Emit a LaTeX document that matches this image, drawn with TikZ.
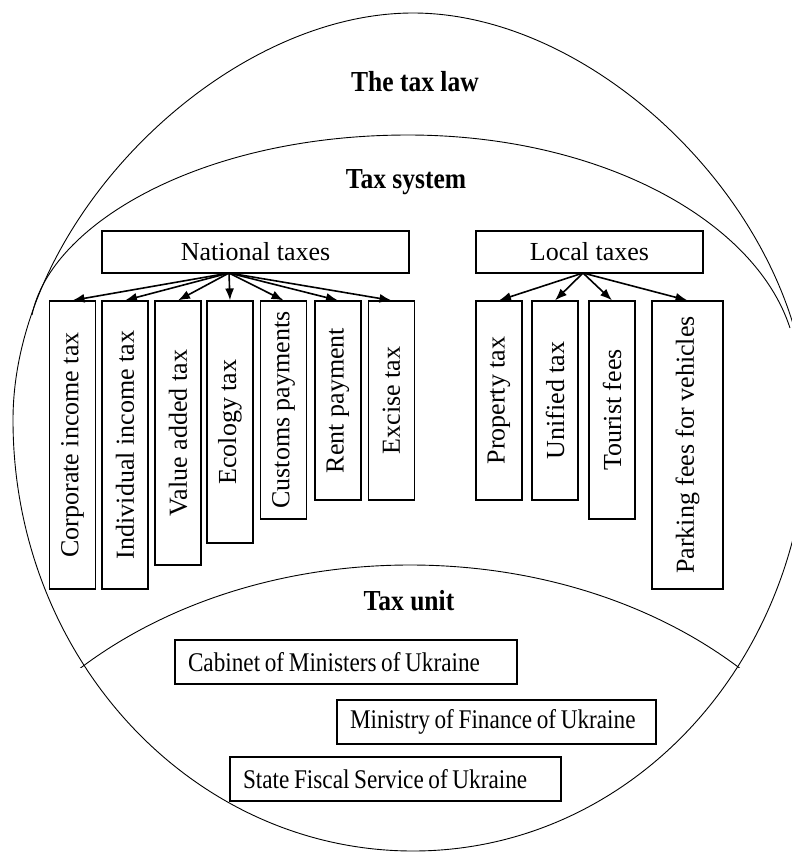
\documentclass[tikz,border=0pt]{standalone}
\usepackage{fontspec}
\setmainfont{Liberation Serif}
\newfontfamily\condfont[FakeStretch=0.86,WordSpace=0.8]{Liberation Serif}
\newfontfamily\titlefont[FakeStretch=0.88]{Liberation Serif}
\usetikzlibrary{arrows.meta}
\begin{document}
\begin{tikzpicture}[x=1pt,y=-1pt,
  ring/.style={line width=0.9pt},
  title/.style={font=\titlefont\fontsize{29}{33}\selectfont\bfseries, anchor=base, inner sep=0pt},
  headbox/.style={draw, line width=1.2pt, font=\fontsize{26}{30}\selectfont, minimum height=42pt, inner sep=0pt},
  taxbox/.style={draw, line width=1.2pt, font=\fontsize{26}{30}\selectfont, rotate=90, inner sep=0pt, minimum height=46pt},
  unitbox/.style={draw, line width=1.2pt, font=\condfont\fontsize{27}{31}\selectfont, minimum height=44pt, inner xsep=13pt, inner ysep=0pt},
  arr/.style={line width=1.6pt, -{Latex[length=12pt,width=9pt]}}
]
\useasboundingbox (0,0) rectangle (792,852);
% outer "tax law" shape
\draw[ring] (413,13) .. controls (223,13) and (13,220) .. (13,420)
  .. controls (13,658) and (192,851) .. (413,851)
  .. controls (634,851) and (808,658) .. (808,420)
  .. controls (808,220) and (603,13) .. cycle;
% tax system arc
\draw[ring] (32,315) .. controls (50,225) and (200,135) .. (408,135)
  .. controls (600,135) and (755,220) .. (790,328);
% tax unit arc
\begin{scope}
  \clip (0,0) rectangle (792,667);
  \draw[ring] (410,915) ellipse [x radius=465, y radius=350];
\end{scope}

% titles
\node[title] (tlaw) at (415,91) {The tax law};
\node[title] (tsys) at (406,188) {Tax system};
\node[title] (tunit) at (409,610) {Tax unit};

% head boxes
\node[headbox, minimum width=307pt] (nat) at (255.5,252) {National taxes};
\node[headbox, minimum width=227pt] (loc) at (589.5,252) {Local taxes};

% national taxes
\node[taxbox, minimum width=288pt] (corp) at (72.5,445) {Corporate income tax};
\node[taxbox, minimum width=288pt] (indiv) at (125,445) {Individual income tax};
\node[taxbox, minimum width=264pt] (vat) at (178,433) {Value added tax};
\node[taxbox, minimum width=242pt] (eco) at (230,422) {Ecology tax};
\node[taxbox, minimum width=218pt] (cust) at (283.5,410) {Customs payments};
\node[taxbox, minimum width=199pt] (rent) at (338,400.5) {Rent payment};
\node[taxbox, minimum width=199pt] (exc) at (391.5,400.5) {Excise tax};

% local taxes
\node[taxbox, minimum width=199pt] (prop) at (499,400.5) {Property tax};
\node[taxbox, minimum width=199pt] (unif) at (555,400.5) {Unified tax};
\node[taxbox, minimum width=218pt] (tour) at (612,410) {Tourist fees};
\node[taxbox, minimum width=288pt, minimum height=71pt] (park) at (687.5,445) {Parking fees for vehicles};

% arrows
\coordinate (no) at (229,273);
\coordinate (lo) at (583,273);
\foreach \b in {corp,indiv,vat,eco,cust,rent,exc}
  \draw[arr] (no) -- (\b.east);
\foreach \b in {prop,unif,tour,park}
  \draw[arr] (lo) -- (\b.east);

% tax unit boxes
\node[unitbox] (cab) at (346,662) {\makebox[316pt][l]{Cabinet of Ministers of Ukraine}};
\node[unitbox] (min) at (496.5,722) {\makebox[293pt][l]{Ministry of Finance of Ukraine}};
\node[unitbox] (sfs) at (395.5,779) {\makebox[305pt][l]{State Fiscal Service of Ukraine}};
\end{tikzpicture}
\end{document}
